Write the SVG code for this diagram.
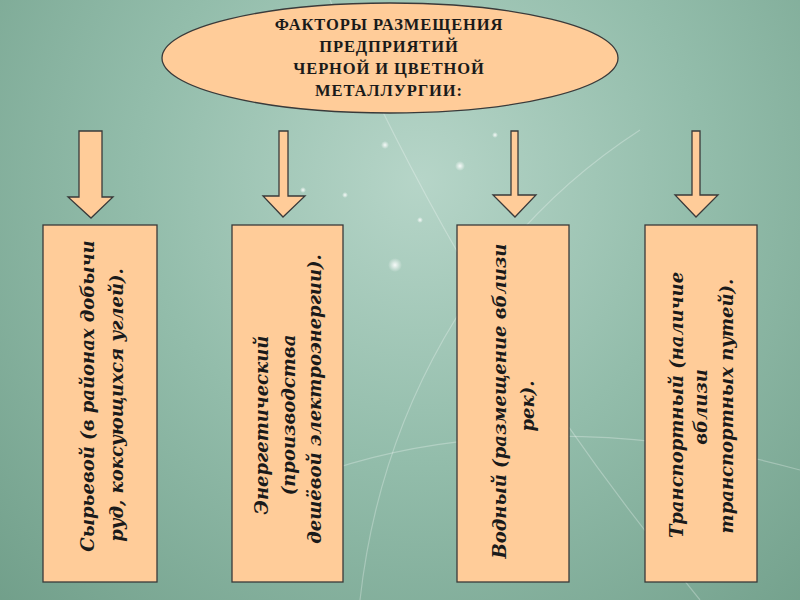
<svg xmlns="http://www.w3.org/2000/svg" width="800" height="600" viewBox="0 0 800 600">
<defs>
<radialGradient id="bg" cx="420" cy="180" r="620" gradientUnits="userSpaceOnUse">
<stop offset="0" stop-color="#b6d5c8"/>
<stop offset="0.45" stop-color="#93bdab"/>
<stop offset="1" stop-color="#6f9d88"/>
</radialGradient>
<radialGradient id="spark">
<stop offset="0" stop-color="#ffffff" stop-opacity="0.9"/>
<stop offset="1" stop-color="#ffffff" stop-opacity="0"/>
</radialGradient>
<style>
.shape{fill:#ffcc99;stroke:#3a3a3a;stroke-width:1.3}
.title{font-family:"Liberation Serif","DejaVu Serif",serif;font-weight:bold;font-size:16.5px;letter-spacing:0.9px;fill:#1a1a1a;text-anchor:middle}
.lbl{font-family:"DejaVu Serif","Liberation Serif",serif;font-weight:bold;font-style:italic;font-size:18px;fill:#1a1a1a;text-anchor:middle}
.deco{fill:none;stroke:#ffffff;stroke-opacity:0.28;stroke-width:1.2}
</style>
</defs>
<rect width="800" height="600" fill="url(#bg)"/>
<g id="background-decor">
<path class="deco" d="M330 0 C 420 200, 520 380, 700 600"/>
<path class="deco" d="M360 600 C 380 420, 470 240, 640 130"/>
<path class="deco" d="M330 470 C 450 430, 620 420, 800 470"/>
<circle cx="395" cy="265" r="7" fill="url(#spark)"/>
<circle cx="460" cy="166" r="5" fill="url(#spark)"/>
<circle cx="385" cy="145" r="4" fill="url(#spark)"/>
<circle cx="420" cy="220" r="3" fill="url(#spark)"/>
<circle cx="345" cy="195" r="3" fill="url(#spark)"/>
<circle cx="303" cy="190" r="3" fill="url(#spark)"/>
<circle cx="495" cy="135" r="3" fill="url(#spark)"/>
<circle cx="390" cy="110" r="3" fill="url(#spark)"/>
</g>
<g id="title">
<ellipse class="shape" cx="390" cy="58" rx="228" ry="55"/>
<text class="title" x="389" y="30">ФАКТОРЫ РАЗМЕЩЕНИЯ</text>
<text class="title" x="389" y="52">ПРЕДПРИЯТИЙ</text>
<text class="title" x="389" y="74">ЧЕРНОЙ И ЦВЕТНОЙ</text>
<text class="title" x="389" y="96">МЕТАЛЛУРГИИ:</text>
</g>
<g id="connectors">
<polygon class="shape" points="79,131 102,131 102,197 113,197 91,218 68,197 79,197"/>
<polygon class="shape" points="279,131 288,131 288,196 305,196 283,217 263,196 279,196"/>
<polygon class="shape" points="511,131 518,131 518,195 536,195 515,217 493,195 511,195"/>
<polygon class="shape" points="692,131 700,131 700,195 718,195 696,217 675,195 692,195"/>
</g>
<g id="box-raw">
<rect class="shape" x="43" y="225" width="114" height="357"/>
<text class="lbl" transform="translate(94,396) rotate(-90)">Сырьевой (в районах добычи</text>
<text class="lbl" transform="translate(123,405) rotate(-90)">руд, коксующихся углей).</text>
</g>
<g id="box-energy">
<rect class="shape" x="232" y="225" width="111" height="357"/>
<text class="lbl" transform="translate(268,425) rotate(-90)">Энергетический</text>
<text class="lbl" transform="translate(295,415) rotate(-90)">(производства</text>
<text class="lbl" transform="translate(321,399) rotate(-90)">дешёвой электроэнергии).</text>
</g>
<g id="box-water">
<rect class="shape" x="457" y="225" width="112" height="357"/>
<text class="lbl" transform="translate(506,401) rotate(-90)">Водный (размещение вблизи</text>
<text class="lbl" transform="translate(534,406) rotate(-90)">рек).</text>
</g>
<g id="box-transport">
<rect class="shape" x="645" y="225" width="112" height="357"/>
<text class="lbl" transform="translate(683,405) rotate(-90)">Транспортный (наличие</text>
<text class="lbl" transform="translate(707,407) rotate(-90)">вблизи</text>
<text class="lbl" transform="translate(733,406) rotate(-90)">транспортных путей).</text>
</g>
</svg>
